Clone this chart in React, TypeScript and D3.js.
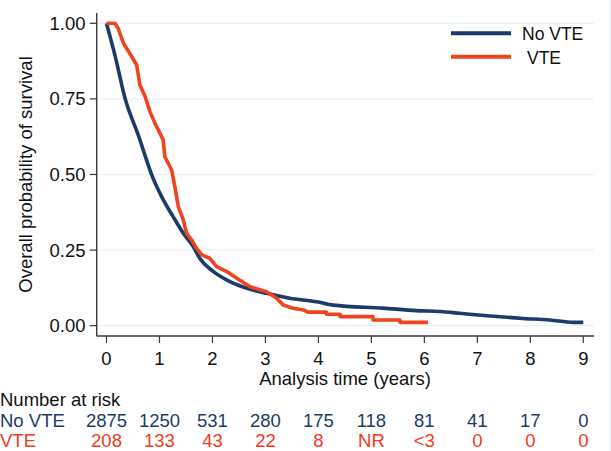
import React from "react";
import * as d3 from "d3";

const noVteTime = [0, 0.16, 0.35, 0.6, 0.88, 1.04, 1.26, 1.45, 1.64, 1.76, 2.02, 2.33, 2.65, 3.02, 3.46, 3.97, 4.28, 5.22, 5.85, 6.3, 6.67, 7.24, 7.86, 8.37, 8.81, 9.0];
const noVteSurv = [1, 0.894, 0.752, 0.63, 0.487, 0.427, 0.36, 0.306, 0.261, 0.223, 0.179, 0.146, 0.124, 0.107, 0.091, 0.079, 0.068, 0.058, 0.05, 0.047, 0.041, 0.032, 0.024, 0.019, 0.011, 0.011];

const vteTime = [0, 0.16, 0.22, 0.32, 0.475, 0.57, 0.63, 0.73, 0.82, 0.915, 1.01, 1.07, 1.1, 1.23, 1.29, 1.355, 1.45, 1.51, 1.61, 1.7, 1.8, 1.95, 2.08, 2.27, 2.46, 2.71, 3.02, 3.21, 3.34, 3.52, 3.72, 3.8, 4.15, 4.15, 4.41, 4.41, 5.03, 5.03, 5.54, 5.54, 6.07];
const vteSurv = [1, 1, 0.983, 0.934, 0.89, 0.862, 0.796, 0.757, 0.708, 0.669, 0.636, 0.614, 0.559, 0.515, 0.46, 0.394, 0.35, 0.306, 0.283, 0.256, 0.234, 0.223, 0.195, 0.179, 0.157, 0.129, 0.112, 0.091, 0.068, 0.058, 0.052, 0.045, 0.045, 0.038, 0.038, 0.03, 0.03, 0.019, 0.019, 0.011, 0.011];

const xTicks = [0, 1, 2, 3, 4, 5, 6, 7, 8, 9];
const yTicks = [0, 0.25, 0.5, 0.75, 1];
const riskNoVte = ["2875", "1250", "531", "280", "175", "118", "81", "41", "17", "0"];
const riskVte = ["208", "133", "43", "22", "8", "NR", "<3", "0", "0", "0"];
const seriesNames = ["No VTE", "VTE"];

const NAVY = "#1b3c6a";
const RED = "#f0441e";
const RED_TXT = "#f23a22";
const FONT = "'Liberation Sans', Arial, sans-serif";

export default function App() {
  const W = 611, H = 451;
  const x = d3.scaleLinear().domain([0, 9]).range([106.5, 583.3]);
  const y = d3.scaleLinear().domain([0, 1]).range([325.7, 23.3]);
  const axisX = 96.7, axisY = 336;

  const smooth = d3.line<[number, number]>().x(d => x(d[0])).y(d => y(d[1])).curve(d3.curveMonotoneX);
  const line = d3.line<[number, number]>().x(d => x(d[0])).y(d => y(d[1]));
  const navyPts = noVteTime.map((t, i) => [t, noVteSurv[i]] as [number, number]);
  const redPts = vteTime.map((t, i) => [t, vteSurv[i]] as [number, number]);
  const fmt = d3.format(".2f");

  return (
    <svg width={W} height={H} style={{ position: "absolute", left: 0, top: 0, background: "#fff" }} fontFamily={FONT}>
      <rect x={0} y={0} width={W} height={H} fill="#fff" />
      <line x1={610.5} x2={610.5} y1={0} y2={H} stroke="#e3eaf1" strokeWidth={1} />
      {yTicks.map(v => (
        <line key={"g" + v} x1={axisX} x2={594} y1={y(v)} y2={y(v)} stroke="#e8f1f8" strokeWidth={1.2} />
      ))}
      <line x1={axisX} x2={axisX} y1={13} y2={axisY} stroke="#3a3a3a" strokeWidth={1.4} />
      <line x1={axisX} x2={594} y1={axisY} y2={axisY} stroke="#3a3a3a" strokeWidth={1.4} />
      {yTicks.map(v => (
        <g key={"y" + v}>
          <line x1={axisX - 7} x2={axisX} y1={y(v)} y2={y(v)} stroke="#3a3a3a" strokeWidth={1.2} />
          <text x={85.5} y={y(v) + 6.5} textAnchor="end" fontSize={18.5} fill="#111">{fmt(v)}</text>
        </g>
      ))}
      {xTicks.map(v => (
        <g key={"x" + v}>
          <line x1={x(v)} x2={x(v)} y1={axisY} y2={axisY + 7} stroke="#3a3a3a" strokeWidth={1.2} />
          <text x={x(v)} y={365} textAnchor="middle" fontSize={18.5} fill="#111">{v}</text>
        </g>
      ))}
      <text x={345} y={385} textAnchor="middle" fontSize={18.5} fill="#111">Analysis time (years)</text>
      <text transform={`translate(32,${(y(0) + y(1)) / 2}) rotate(-90)`} textAnchor="middle" fontSize={18.5} fill="#111">
        Overall probability of survival
      </text>
      <path d={smooth(navyPts) || ""} fill="none" stroke={NAVY} strokeWidth={3.6} strokeLinejoin="round" />
      <path d={line(redPts) || ""} fill="none" stroke={RED} strokeWidth={3.6} strokeLinejoin="round" />
      <line x1={451} x2={511} y1={33.3} y2={33.3} stroke={NAVY} strokeWidth={4} />
      <line x1={451} x2={511} y1={56.7} y2={56.7} stroke={RED} strokeWidth={4} />
      <text x={522} y={40} fontSize={17.5} fill="#111">{seriesNames[0]}</text>
      <text x={527} y={63.5} fontSize={17.5} fill="#111">{seriesNames[1]}</text>
      <text x={0} y={405.7} fontSize={18.5} fill="#111">Number at risk</text>
      <text x={0} y={426.5} fontSize={18.5} fill={NAVY}>{seriesNames[0]}</text>
      <text x={0} y={447.3} fontSize={18.5} fill={RED_TXT}>{seriesNames[1]}</text>
      {riskNoVte.map((v, i) => (
        <text key={"rn" + i} x={x(xTicks[i])} y={426.5} textAnchor="middle" fontSize={18.5} fill={NAVY}>{v}</text>
      ))}
      {riskVte.map((v, i) => (
        <text key={"rv" + i} x={x(xTicks[i])} y={447.3} textAnchor="middle" fontSize={18.5} fill={RED_TXT}>{v}</text>
      ))}
    </svg>
  );
}
